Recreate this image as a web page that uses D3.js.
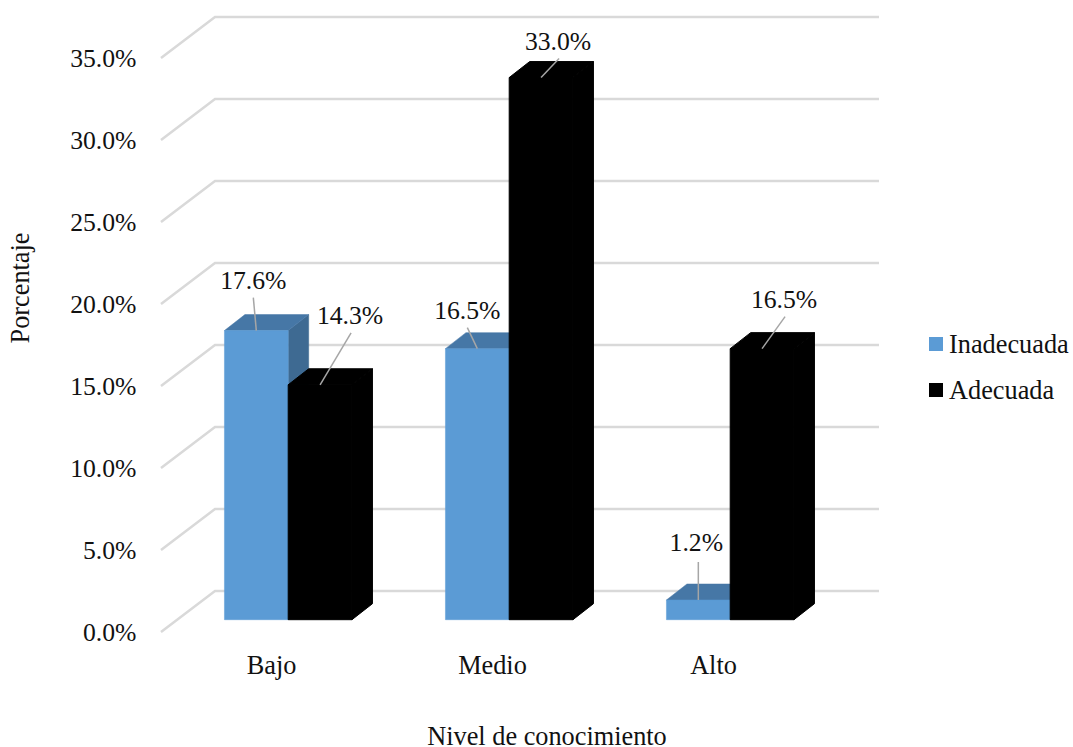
<!DOCTYPE html>
<html><head><meta charset="utf-8">
<script src="https://cdn.jsdelivr.net/npm/d3@7"></script>
<style>
html,body{margin:0;padding:0;background:#fff}
svg{display:block}
text{font-family:"Liberation Serif",serif;fill:#111}
</style></head><body><svg width="1073" height="747"></svg>
<script>
const categories = ["Bajo","Medio","Alto"];
const seriesNames = ["Inadecuada","Adecuada"];
const inadecuada = [17.6,16.5,1.2];
const adecuada = [14.3,33.0,16.5];
const yTicks = [0,5,10,15,20,25,30,35];
const seriesValues = [inadecuada,adecuada];

// layout (not data)
const colors = {Inadecuada:{front:"#5b9bd5",top:"#4677a6",side:"#3e6a92"},Adecuada:{front:"#000",top:"#000",side:"#000"}};
const depth = {gridX:54,gridY:41,barX:20.5,barY:16};
const labelOffset = [[[-3,-42],[30,-61]],[[-10,-30],[17,-28]],[[-2,-49],[22,-41]]];
const leaderOffset = [[[-3,-33],[31,-52]],[[-10,-21],[18,-19]],[[0,-38],[23,-32]]];
const fontSize = 26.3;
const tickFontSize = 25.7;

const svg = d3.select("svg");
const x = d3.scaleBand().domain(categories).range([161,824]);
const yAxisScale = d3.scaleLinear().domain([0,35]).range([632,58]);
const yBar = d3.scaleLinear().domain([0,35]).range([619.7,44.7]);
const groupW = 127.5;
const inner = d3.scaleBand().domain(seriesNames).range([0,groupW]);
const groupX = c => x(c)+x.bandwidth()/2+16.7-groupW/2;

// grid
const grid = svg.append("g").attr("fill","none").attr("stroke","#d9d9d9").attr("stroke-width",2.5);
yTicks.forEach(t=>{
  const y0=yAxisScale(t);
  grid.append("path").attr("d",d3.line()([[161,y0],[161+depth.gridX,y0-depth.gridY],[879,y0-depth.gridY]]));
});

// y axis labels
const yAxis = d3.axisLeft(yAxisScale).tickValues(yTicks).tickFormat(d=>d3.format(".1f")(d)+"%").tickSize(0).tickPadding(0);
const gy = svg.append("g").attr("transform","translate(136.5,0)").call(yAxis);
gy.select(".domain").remove();
gy.selectAll("text").style("font-size",tickFontSize+"px").style("font-family",'"Liberation Serif",serif').attr("fill","#111").attr("dy","0.32em");

// x axis labels
const xAxis = d3.axisBottom(x).tickSize(0).tickPadding(0);
const gx = svg.append("g").attr("transform","translate(0,655)").call(xAxis);
gx.select(".domain").remove();
gx.selectAll("text").style("font-size",fontSize+"px").style("font-family",'"Liberation Serif",serif').attr("fill","#111").attr("dy","0.71em");

// bars
const bars = svg.append("g");
categories.forEach((c,i)=>{
  seriesNames.forEach((s,j)=>{
    const v=seriesValues[j][i], l=groupX(c)+inner(s), w=inner.bandwidth(), t=yBar(v), b=yBar(0), col=colors[s];
    const dx=depth.barX, dy=depth.barY;
    const sw = s==="Adecuada" ? 1 : 0.5;
    const poly=(pts,fill)=>bars.append("polygon").attr("points",pts.join(" ")).attr("fill",fill).attr("stroke",fill).attr("stroke-width",sw);
    poly([[l+w,t],[l+w+dx,t-dy],[l+w+dx,b-dy],[l+w,b]],col.side);
    poly([[l,t],[l+dx,t-dy],[l+w+dx,t-dy],[l+w,t]],col.top);
    poly([[l,t],[l+w,t],[l+w,b],[l,b]],col.front);
  });
});

// labels with leaders
const labels = svg.append("g");
categories.forEach((c,i)=>{
  seriesNames.forEach((s,j)=>{
    const v=seriesValues[j][i], cx=groupX(c)+inner(s)+inner.bandwidth()/2, t=yBar(v);
    labels.append("line").attr("x1",cx+leaderOffset[i][j][0]).attr("y1",t+leaderOffset[i][j][1]).attr("x2",cx).attr("y2",t)
      .attr("stroke","#a6a6a6").attr("stroke-width",1.5);
    labels.append("text").attr("x",cx+labelOffset[i][j][0]).attr("y",t+labelOffset[i][j][1]).attr("text-anchor","middle")
      .attr("font-size",tickFontSize).text(d3.format(".1f")(v)+"%");
  });
});

// axis titles
svg.append("text").attr("x",547).attr("y",744.5).attr("text-anchor","middle").attr("font-size",fontSize).text("Nivel de conocimiento");
svg.append("text").attr("transform","translate(29,288) rotate(-90)").attr("text-anchor","middle").attr("font-size",fontSize).text("Porcentaje");

// legend
const legendY = d3.scalePoint().domain(seriesNames).range([344,390]);
seriesNames.forEach(s=>{
  const y=legendY(s);
  svg.append("rect").attr("x",929).attr("y",y-7).attr("width",14).attr("height",14).attr("fill",colors[s].front);
  svg.append("text").attr("x",949).attr("y",y+8.5).attr("font-size",fontSize).text(s);
});
</script></body></html>
